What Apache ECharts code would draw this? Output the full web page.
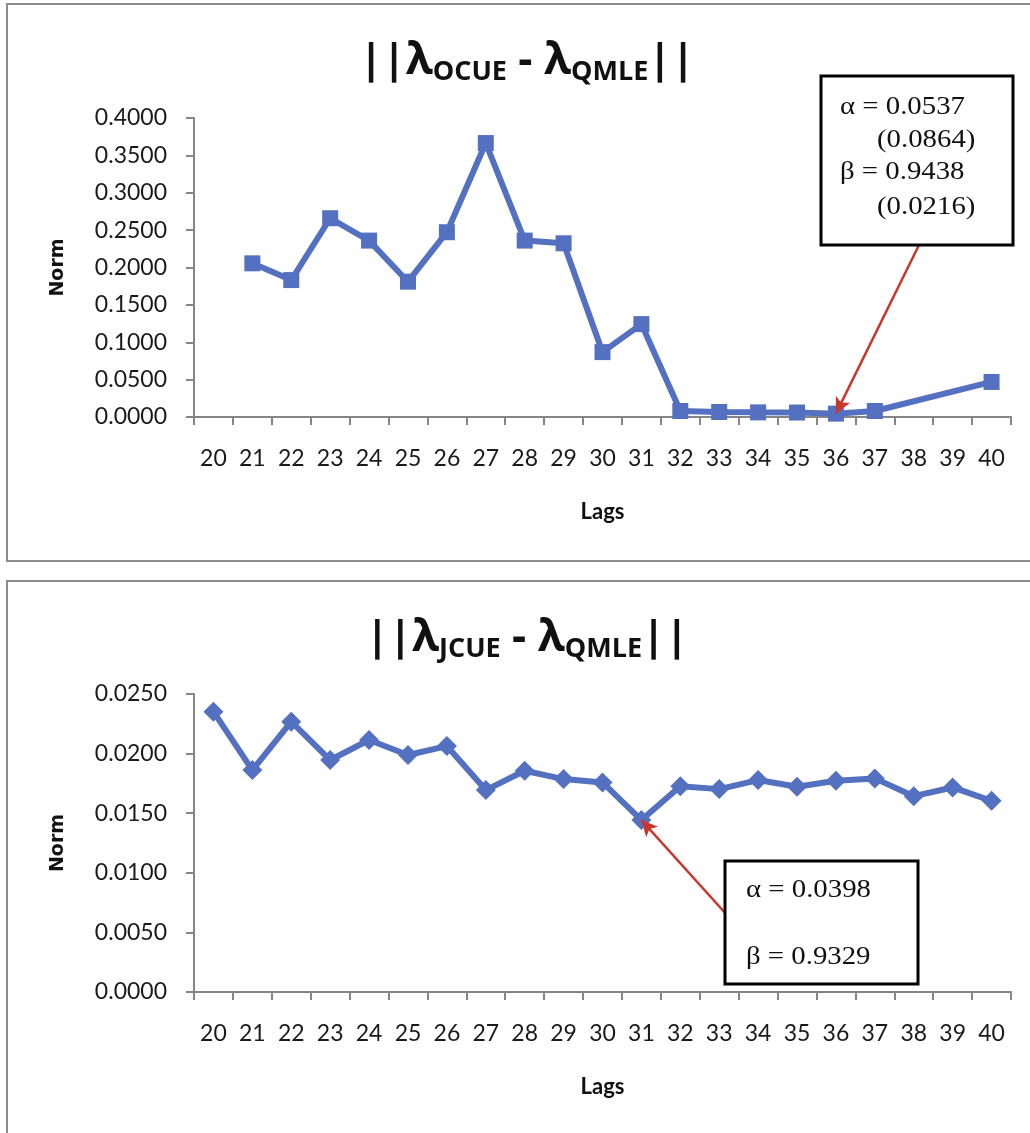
<!DOCTYPE html>
<html>
<head>
<meta charset="utf-8">
<script src="https://cdn.jsdelivr.net/npm/echarts@6/dist/echarts.min.js"></script>
<style>
html,body{margin:0;padding:0;background:#fff;}
#c{width:1030px;height:1133px;}
</style>
</head>
<body>
<div id="c"></div>
<script>
// ---- data ----
const lags = ['20','21','22','23','24','25','26','27','28','29','30','31','32','33','34','35','36','37','38','39','40'];
const ocueNorm = [null,0.2056,0.1832,0.2659,0.2360,0.1810,0.2472,0.3665,0.2360,0.2324,0.0868,0.1243,0.0080,0.0067,0.0062,0.0060,0.0045,0.0080,null,null,0.0469];
const jcueNorm = [0.02352,0.01862,0.02268,0.01946,0.02114,0.01988,0.02063,0.01694,0.01856,0.01786,0.01758,0.01442,0.01727,0.01702,0.01778,0.01722,0.01772,0.01792,0.01643,0.01716,0.01604];
const topTicks = {min:0, max:0.4, interval:0.05};
const botTicks = {min:0, max:0.025, interval:0.005};
const topNote = ['α = 0.0537','(0.0864)','β = 0.9438','(0.0216)'];
const botNote = ['α = 0.0398','β = 0.9329'];
const topArrowIdx = 16; // lag 36
const botArrowIdx = 11; // lag 31

const BLUE = '#5470c0';
const AXIS = '#868686';
const RED = '#c8372d';

const chart = echarts.init(document.getElementById('c'), null, {renderer:'canvas'});

function xAxisDef(gridIndex){
  return {
    type:'category', gridIndex, data:lags, boundaryGap:true,
    axisLine:{lineStyle:{color:AXIS,width:2}},
    axisTick:{show:true,length:8,lineStyle:{color:AXIS,width:2}},
    axisLabel:{fontFamily:'Lato',fontSize:23,color:'#1a1a1a',margin:30,interval:0},
    name:'Lags', nameLocation:'middle', nameGap:84,
    nameTextStyle:{fontFamily:'Lato',fontWeight:'bold',fontSize:22,color:'#111'}
  };
}
function yAxisDef(gridIndex, t){
  return {
    type:'value', gridIndex, min:t.min, max:t.max, interval:t.interval,
    axisLine:{show:true,lineStyle:{color:AXIS,width:2}},
    axisTick:{show:true,length:8,lineStyle:{color:AXIS,width:2}},
    splitLine:{show:false},
    axisLabel:{fontFamily:'Lato',fontSize:23,color:'#1a1a1a',margin:27,formatter:v=>v.toFixed(4)},
    name:'Norm', nameLocation:'middle', nameGap:126,
    nameTextStyle:{fontFamily:'DejaVu Sans',fontWeight:'bold',fontSize:19,color:'#111'}
  };
}
const titleRich = {
  m:{fontFamily:'Open Sans',fontWeight:'bold',fontSize:44,lineHeight:50,color:'#111'},
  b:{fontFamily:'Open Sans',fontWeight:'bold',fontSize:42,lineHeight:50,color:'#111'},
  s:{fontFamily:'Open Sans',fontWeight:'bold',fontSize:27,lineHeight:14,verticalAlign:'bottom',color:'#111'}
};
function noteText(x,y,t){
  return {type:'text',z:100,x,y,scaleX:1.2,scaleY:1.04,
    style:{x:0,y:0,text:t,font:'24px "Liberation Serif", "Times New Roman", serif',fill:'#111',textVerticalAlign:'middle'}};
}

const option = {
  animation:false,
  backgroundColor:'#fff',
  title:[
    {text:'{b|||}{m|λ}{s|OCUE}{m| - λ}{s|QMLE}{b|||}',left:522,textAlign:'center',top:31,textStyle:{rich:titleRich}},
    {text:'{b|||}{m|λ}{s|JCUE}{m| - λ}{s|QMLE}{b|||}',left:522,textAlign:'center',top:608,textStyle:{rich:titleRich}}
  ],
  grid:[
    {left:194,right:19,top:118,height:299},
    {left:194,right:19,top:694,height:298}
  ],
  xAxis:[xAxisDef(0),xAxisDef(1)],
  yAxis:[yAxisDef(0,topTicks),yAxisDef(1,botTicks)],
  series:[
    {type:'line',xAxisIndex:0,yAxisIndex:0,data:ocueNorm,connectNulls:true,
     symbol:'rect',symbolSize:16,lineStyle:{color:BLUE,width:6},itemStyle:{color:BLUE},
     markLine:{silent:true,symbol:['none','arrow'],symbolSize:[12,16],label:{show:false},
       lineStyle:{color:RED,width:2.5,type:'solid'},
       data:[[{x:919,y:245},{coord:[lags[topArrowIdx],ocueNorm[topArrowIdx]]}]]}},
    {type:'line',xAxisIndex:1,yAxisIndex:1,data:jcueNorm,
     symbol:'diamond',symbolSize:20,lineStyle:{color:BLUE,width:6},itemStyle:{color:BLUE},
     markLine:{silent:true,symbol:['none','arrow'],symbolSize:[12,16],label:{show:false},
       lineStyle:{color:RED,width:2.5,type:'solid'},
       data:[[{x:727,y:915},{coord:[lags[botArrowIdx],jcueNorm[botArrowIdx]]}]]}}
  ],
  graphic:[
    {type:'rect',z:-10,shape:{x:7,y:4,width:1040,height:557},style:{fill:'none',stroke:'#8c8c8c',lineWidth:2}},
    {type:'rect',z:-10,shape:{x:7,y:581,width:1040,height:600},style:{fill:'none',stroke:'#8c8c8c',lineWidth:2}},
    {type:'rect',z:90,shape:{x:821,y:76,width:192,height:169},style:{fill:'#fff',stroke:'#000',lineWidth:3}},
    noteText(840,107,topNote[0]),
    noteText(877,140,topNote[1]),
    noteText(840,172,topNote[2]),
    noteText(877,207,topNote[3]),
    {type:'rect',z:90,shape:{x:725,y:861,width:193,height:123},style:{fill:'#fff',stroke:'#000',lineWidth:3}},
    noteText(746,890,botNote[0]),
    noteText(746,957,botNote[1])
  ]
};
chart.setOption(option);
</script>
</body>
</html>
